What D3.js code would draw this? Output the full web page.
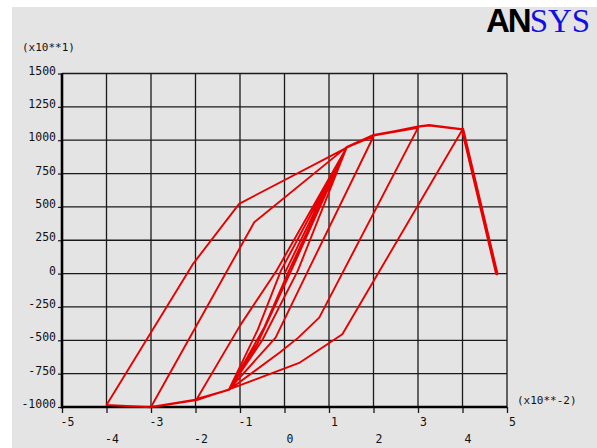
<!DOCTYPE html>
<html>
<head>
<meta charset="utf-8">
<script src="https://cdn.jsdelivr.net/npm/d3@7"></script>
<style>
body { margin: 0; background: #fff; }
text { font-family: "DejaVu Sans Mono", monospace; }
</style>
</head>
<body>
<svg width="597" height="448"></svg>
<script>
// displacement (x10**-2) and force (x10**1) along the load history
var dispValues = [0, 0.7, 1.4, 0.3, -0.5, -1.25, -0.6, -0.08, 1.4,
    0.15, -0.6, -1.25, -0.45, 0.1, 1.4, 2.0,
    0.53, -0.2, -1.25, -1.97, -1.0, -0.18, 1.4, 2.0, 3.0,
    0.78, 0.31, -0.1, -1.25, -1.97, -3.0,
    -0.68, 1.4, 2.0, 3.0, 3.25, 4.0,
    1.3, 0.33, -1.25, -1.97, -3.0, -4.0,
    -2.05, -1.02, 1.4, 2.0, 3.0, 3.25, 4.0, 4.77];
var forceValues = [0, 480, 947, 22, -500, -870, -420, 22, 947,
    22, -520, -870, -400, 22, 947, 1028,
    22, -480, -870, -940, -390, 22, 947, 1034, 1092,
    -330, -480, -590, -872, -944, -1000,
    385, 950, 1040, 1100, 1110, 1080,
    -455, -670, -868, -948, -1002, -985,
    75, 523, 945, 1036, 1104, 1114, 1082, 0];

var yTicks = [-1000, -750, -500, -250, 0, 250, 500, 750, 1000, 1250, 1500];
var xTicksUpper = [-5, -3, -1, 1, 3, 5];
var xTicksLower = [-4, -2, 0, 2, 4];
var xGrid = [-5, -4, -3, -2, -1, 0, 1, 2, 3, 4, 5];

var svg = d3.select("svg");
var margin = { left: 62, right: 507, top: 73.5, bottom: 407 };
var plain = function(d) { return String(d); };

svg.append("rect")
    .attr("x", 12).attr("y", 7)
    .attr("width", 597 - 12).attr("height", 448 - 7)
    .attr("fill", "#e4e4e4");

var x = d3.scaleLinear().domain([-5, 5]).range([margin.left, margin.right]);
var y = d3.scaleLinear().domain([-1000, 1500]).range([margin.bottom, margin.top]);

// grid
svg.append("g").selectAll("line")
    .data(yTicks).enter().append("line")
    .attr("x1", margin.left).attr("x2", margin.right)
    .attr("y1", function(d) { return y(d); })
    .attr("y2", function(d) { return y(d); })
    .attr("stroke", "#1a1a1a").attr("stroke-width", 1.3);

svg.append("g").selectAll("line")
    .data(xGrid).enter().append("line")
    .attr("x1", function(d) { return x(d); })
    .attr("x2", function(d) { return x(d); })
    .attr("y1", margin.top).attr("y2", margin.bottom)
    .attr("stroke", "#1a1a1a").attr("stroke-width", 1.3);

// y axis
var yAxis = svg.append("g")
    .attr("transform", "translate(" + margin.left + ",0)")
    .call(d3.axisLeft(y).tickValues(yTicks).tickFormat(plain).tickSize(4).tickPadding(2));
yAxis.select(".domain").remove();
yAxis.selectAll("line").attr("stroke", "#1a1a1a").attr("stroke-width", 1.2);
yAxis.selectAll("text")
    .attr("dy", "0.05em")
    .style("font-size", "11.5px")
    .style("font-family", "DejaVu Sans Mono, monospace")
    .attr("fill", "#111");

// x axis ticks
var xAxis = svg.append("g")
    .attr("transform", "translate(0," + margin.bottom + ")")
    .call(d3.axisBottom(x).tickValues(xGrid).tickSize(6).tickFormat(""));
xAxis.select(".domain").remove();
xAxis.selectAll("line").attr("stroke", "#1a1a1a").attr("stroke-width", 1.3);

var xUpper = svg.append("g")
    .attr("transform", "translate(5," + margin.bottom + ")")
    .call(d3.axisBottom(x).tickValues(xTicksUpper).tickFormat(plain).tickSize(0).tickPadding(11));
xUpper.select(".domain").remove();
xUpper.selectAll("text")
    .style("font-size", "11.5px")
    .style("font-family", "DejaVu Sans Mono, monospace")
    .attr("fill", "#111");

var xLower = svg.append("g")
    .attr("transform", "translate(5," + margin.bottom + ")")
    .call(d3.axisBottom(x).tickValues(xTicksLower).tickFormat(plain).tickSize(0).tickPadding(28));
xLower.select(".domain").remove();
xLower.selectAll("text")
    .style("font-size", "11.5px")
    .style("font-family", "DejaVu Sans Mono, monospace")
    .attr("fill", "#111");

// heavy left and bottom axis lines
svg.append("line")
    .attr("x1", margin.left).attr("x2", margin.left)
    .attr("y1", margin.top).attr("y2", margin.bottom + 1.5)
    .attr("stroke", "#000").attr("stroke-width", 2.6);
svg.append("line")
    .attr("x1", margin.left).attr("x2", margin.right)
    .attr("y1", margin.bottom).attr("y2", margin.bottom)
    .attr("stroke", "#000").attr("stroke-width", 2.6);

// curve
var pts = dispValues.map(function(d, i) { return [d, forceValues[i]]; });
var line = d3.line()
    .x(function(d) { return x(d[0]); })
    .y(function(d) { return y(d[1]); });

svg.append("path")
    .datum(pts)
    .attr("d", line)
    .attr("fill", "none")
    .attr("stroke", "#e60000")
    .attr("stroke-width", 1.9)
    .attr("stroke-linejoin", "round");

svg.append("path")
    .datum(pts.slice(pts.length - 2))
    .attr("d", line)
    .attr("fill", "none")
    .attr("stroke", "#e60000")
    .attr("stroke-width", 3.4)
    .attr("stroke-linecap", "round");

// unit labels
svg.append("text")
    .attr("x", 22).attr("y", 51)
    .style("font-size", "11px")
    .attr("fill", "#111")
    .text("(x10**1)");
svg.append("text")
    .attr("x", 517).attr("y", 404)
    .style("font-size", "11px")
    .attr("fill", "#111")
    .text("(x10**-2)");

// logo
var logo = svg.append("text")
    .attr("x", 486).attr("y", 32)
    .style("font-size", "33px");
logo.append("tspan")
    .style("font-family", "Liberation Sans, Arial, sans-serif")
    .style("font-weight", "900")
    .attr("fill", "#000")
    .attr("letter-spacing", "-2")
    .text("AN");
logo.append("tspan")
    .style("font-family", "Liberation Serif, Times New Roman, serif")
    .attr("fill", "#1010e0")
    .text("SYS");
</script>
</body>
</html>
